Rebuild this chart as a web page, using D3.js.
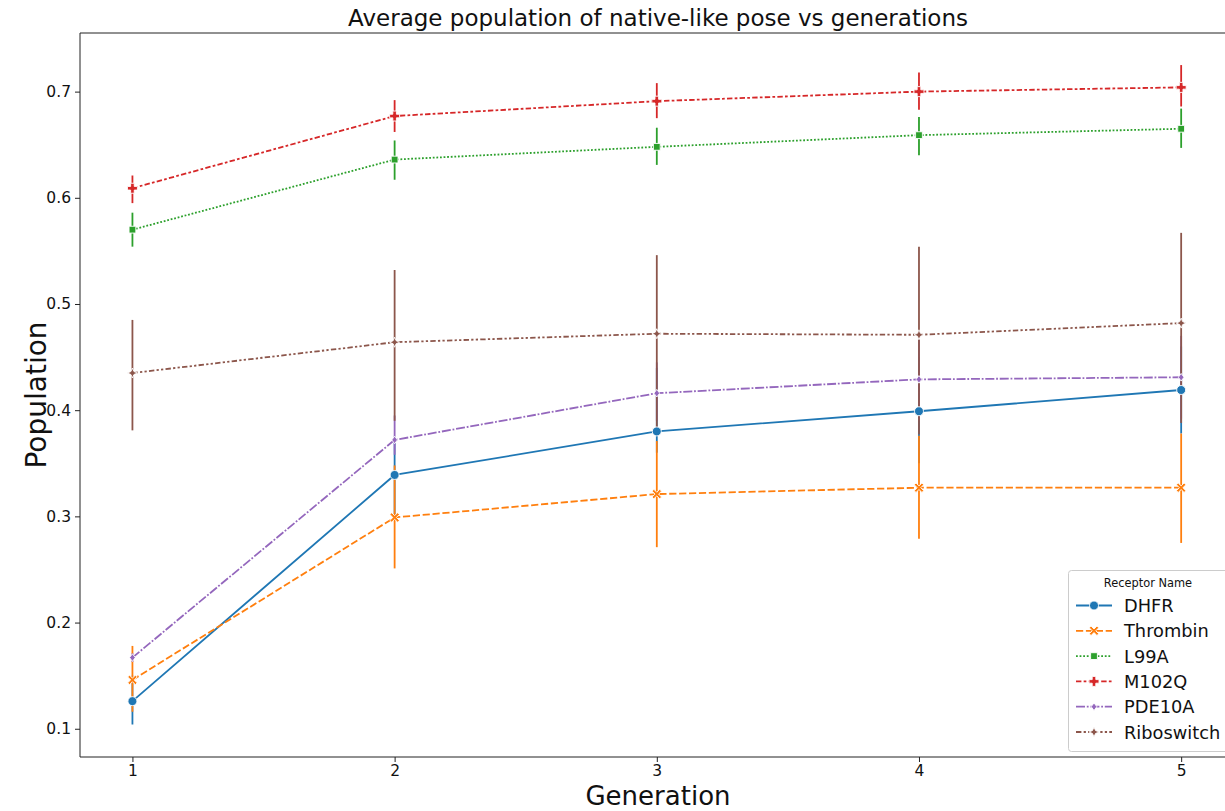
<!DOCTYPE html>
<html><head><meta charset="utf-8">
<script src="https://cdn.jsdelivr.net/npm/d3@7"></script>
<style>body{margin:0;background:#fff;} svg{display:block;font-family:"DejaVu Sans",sans-serif;}</style>
</head><body><svg id="chart" width="1225" height="811"></svg>
<script>
const generations = [1, 2, 3, 4, 5];
const seriesNames = ["DHFR", "Thrombin", "L99A", "M102Q", "PDE10A", "Riboswitch"];
const colors = ["#1f77b4", "#ff7f0e", "#2ca02c", "#d62728", "#9467bd", "#8c564b"];
const yTicks = [0.1, 0.2, 0.3, 0.4, 0.5, 0.6, 0.7];

const dhfrMean = [0.126, 0.339, 0.380, 0.399, 0.419];
const dhfrLo   = [0.104, 0.300, 0.360, 0.350, 0.378];
const dhfrHi   = [0.150, 0.375, 0.440, 0.450, 0.460];
const thrMean  = [0.146, 0.299, 0.321, 0.327, 0.327];
const thrLo    = [0.116, 0.251, 0.271, 0.279, 0.275];
const thrHi    = [0.178, 0.348, 0.371, 0.376, 0.378];
const l99Mean  = [0.570, 0.636, 0.648, 0.659, 0.665];
const l99Lo    = [0.554, 0.617, 0.631, 0.640, 0.647];
const l99Hi    = [0.586, 0.654, 0.666, 0.676, 0.684];
const m102Mean = [0.609, 0.677, 0.691, 0.700, 0.704];
const m102Lo   = [0.595, 0.662, 0.675, 0.683, 0.686];
const m102Hi   = [0.621, 0.692, 0.708, 0.718, 0.725];
const pdeMean  = [0.167, 0.372, 0.416, 0.429, 0.431];
const pdeLo    = [0.163, 0.358, 0.390, 0.390, 0.392];
const pdeHi    = [0.171, 0.395, 0.445, 0.470, 0.470];
const riboMean = [0.435, 0.464, 0.472, 0.471, 0.482];
const riboLo   = [0.381, 0.390, 0.383, 0.377, 0.388];
const riboHi   = [0.485, 0.532, 0.546, 0.554, 0.567];

const means = [dhfrMean, thrMean, l99Mean, m102Mean, pdeMean, riboMean];
const los = [dhfrLo, thrLo, l99Lo, m102Lo, pdeLo, riboLo];
const his = [dhfrHi, thrHi, l99Hi, m102Hi, pdeHi, riboHi];

const lw = 1.8;
const dashSpecs = [null, [4,1.5], [1,1], [3,1.25,1.5,1.25], [5,1,1,1], [3,1.25,1.25,1.25,1.25,1.25]];
const dashStr = d => d ? d.map(v => v*lw).join(",") : null;

// marker shapes
function markerPath(i, s) {
  const r = s/2;
  if (i === 0) { return d3.symbol(d3.symbolCircle, Math.PI*r*r)(); }
  if (i === 1) { // filled X
    const a = r, w = r*0.38;
    const pts = [[0,-w],[a-w,-a],[a,-a+w],[w,0],[a,a-w],[a-w,a],[0,w],[-a+w,a],[-a,a-w],[-w,0],[-a,-a+w],[-a+w,-a]];
    return "M" + pts.map(q => q.join(",")).join("L") + "Z";
  }
  if (i === 2) { const a = r*0.85; return `M${-a},${-a}L${a},${-a}L${a},${a}L${-a},${a}Z`; }
  if (i === 3) { // filled plus
    const a = r, w = r*0.36;
    const pts = [[-w,-a],[w,-a],[w,-w],[a,-w],[a,w],[w,w],[w,a],[-w,a],[-w,w],[-a,w],[-a,-w],[-w,-w]];
    return "M" + pts.map(q => q.join(",")).join("L") + "Z";
  }
  if (i === 4) { const a = r*0.95; return `M0,${-a}L${a*0.75},0L0,${a}L${-a*0.75},0Z`; }
  // 4 point star
  const a = r, b = r*0.3;
  const pts = [[0,-a],[b,-b],[a,0],[b,b],[0,a],[-b,b],[-a,0],[-b,-b]];
  return "M" + pts.map(q => q.join(",")).join("L") + "Z";
}
const mSize = [9, 9.5, 8, 10, 8, 10];

const svg = d3.select("#chart");
const L = 80, T = 33, B = 757;
const x = d3.scaleLinear().domain([0.8, 5.2]).range([L, 1233.6]);
const y = d3.scaleLinear().domain([0.0734, 0.7552]).range([B, T]);

// error bars (all under lines)
const gErr = svg.append("g");
seriesNames.forEach((n, i) => {
  gErr.selectAll(null).data(generations).enter().append("line")
    .attr("x1", d => x(d)).attr("x2", d => x(d))
    .attr("y1", (d, k) => y(los[i][k])).attr("y2", (d, k) => y(his[i][k]))
    .attr("stroke", colors[i]).attr("stroke-width", lw);
});

const line = d3.line().x(d => x(d[0])).y(d => y(d[1]));
seriesNames.forEach((n, i) => {
  const pts = generations.map((g, k) => [g, means[i][k]]);
  svg.append("path").attr("d", line(pts)).attr("fill", "none")
    .attr("stroke", colors[i]).attr("stroke-width", lw)
    .attr("stroke-dasharray", dashStr(dashSpecs[i]));
  svg.selectAll(null).data(pts).enter().append("path")
    .attr("d", markerPath(i, mSize[i]))
    .attr("transform", d => `translate(${x(d[0])},${y(d[1])})`)
    .attr("fill", colors[i]).attr("stroke", "#fff").attr("stroke-width", 0.9);
});

// axes
const xAxis = d3.axisBottom(x).tickValues(generations).tickFormat(d3.format("d")).tickSize(5).tickPadding(3);
const yAxis = d3.axisLeft(y).tickValues(yTicks).tickFormat(d3.format(".1f")).tickSize(5).tickPadding(4);
const gx = svg.append("g").attr("transform", `translate(0,${B})`).call(xAxis);
const gy = svg.append("g").attr("transform", `translate(${L},0)`).call(yAxis);
[gx, gy].forEach(g => {
  g.select(".domain").remove();
  g.selectAll("line").attr("stroke", "#222").attr("stroke-width", 1);
  g.selectAll("text").attr("font-size", 15.5).attr("fill", "#111").attr("font-family", "DejaVu Sans");
});
// frame
svg.append("line").attr("x1", L).attr("x2", 1240).attr("y1", T).attr("y2", T).attr("stroke", "#222").attr("stroke-width", 1);
svg.append("line").attr("x1", L).attr("x2", 1240).attr("y1", B).attr("y2", B).attr("stroke", "#222").attr("stroke-width", 1);
svg.append("line").attr("x1", L).attr("x2", L).attr("y1", T).attr("y2", B).attr("stroke", "#222").attr("stroke-width", 1);

// titles
svg.append("text").attr("x", 658).attr("y", 26).attr("text-anchor", "middle")
  .attr("font-size", 23).attr("fill", "#111").text("Average population of native-like pose vs generations");
svg.append("text").attr("x", 658).attr("y", 804.5).attr("text-anchor", "middle")
  .attr("font-size", 26).attr("fill", "#111").text("Generation");
svg.append("text").attr("transform", "translate(46,395) rotate(-90)").attr("text-anchor", "middle")
  .attr("font-size", 28).attr("fill", "#111").text("Population");

// legend
const lg = svg.append("g");
lg.append("rect").attr("x", 1068.5).attr("y", 570.5).attr("width", 170).attr("height", 181).attr("rx", 3)
  .attr("fill", "#fff").attr("fill-opacity", 0.8).attr("stroke", "#ccc").attr("stroke-width", 1);
lg.append("text").attr("x", 1148).attr("y", 587).attr("text-anchor", "middle").attr("font-size", 11.4).attr("fill", "#111").text("Receptor Name");
seriesNames.forEach((n, i) => {
  const yy = 605.5 + i * 25.3;
  lg.append("line").attr("x1", 1076).attr("x2", 1112).attr("y1", yy).attr("y2", yy)
    .attr("stroke", colors[i]).attr("stroke-width", lw).attr("stroke-dasharray", dashStr(dashSpecs[i]));
  lg.append("path").attr("d", markerPath(i, mSize[i])).attr("transform", `translate(1094,${yy})`)
    .attr("fill", colors[i]).attr("stroke", "#fff").attr("stroke-width", 0.9);
  lg.append("text").attr("x", 1124).attr("y", yy + 6.5).attr("font-size", 17.8).attr("fill", "#111").text(n);
});
</script></body></html>
